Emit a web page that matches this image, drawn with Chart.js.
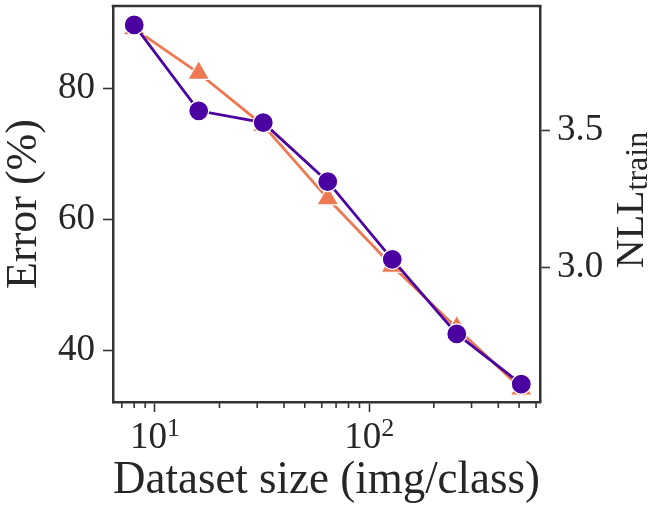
<!DOCTYPE html>
<html>
<head>
<meta charset="utf-8">
<script src="https://cdn.jsdelivr.net/npm/chart.js@4.4.1/dist/chart.umd.min.js"></script>
<style>
  html, body { margin: 0; padding: 0; background: #fff; }
  #wrap { width: 662px; height: 517px; }
</style>
</head>
<body>
<div id="wrap"><canvas id="sizeChart"></canvas></div>
<script>
// values
var datasetSizes = [8, 16, 32, 64, 128, 256, 512];
var errorPct = [89.2, 82.4, 74.4, 63.2, 52.9, 43.4, 34.1];
var nllTrain = [3.884, 3.571, 3.528, 3.313, 3.030, 2.758, 2.575];
var xTickValues = [7, 8, 9, 10, 20, 30, 40, 50, 60, 70, 80, 90, 100, 200, 300, 400, 500, 600];
var xMajorTicks = [10, 100];
var xMajorExps = ['1', '2'];
var errorTicks = [40, 60, 80];
var nllTicks = [3.0, 3.5];

var textColor = '#262626';
var axisColor = '#333333';
var purple = '#4c02a1';
var orange = '#ed7953';

function toPoints(ys) {
    return datasetSizes.map(function (s, i) { return { x: s, y: ys[i] }; });
}

// no extra room for half tick labels, the box is placed by hand
function noPad(scale) {
    scale.paddingTop = 0;
    scale.paddingBottom = 0;
    scale.paddingLeft = 0;
    scale.paddingRight = 0;
}

// frame on top, short minor ticks, 10^n labels, right axis title with subscript
var framePlugin = {
    id: 'framePlugin',
    afterDraw: function (chart) {
        var ctx = chart.ctx;
        var a = chart.chartArea;
        var xs = chart.scales.x;
        ctx.save();
        ctx.strokeStyle = axisColor;
        ctx.lineWidth = 2.5;
        ctx.beginPath();
        ctx.moveTo(a.left - 1.25, a.top);
        ctx.lineTo(a.right + 1.25, a.top);
        ctx.stroke();

        ctx.lineWidth = 1.6;
        xTickValues.forEach(function (v) {
            if (xMajorTicks.indexOf(v) >= 0) return;
            var px = xs.getPixelForValue(v);
            ctx.beginPath();
            ctx.moveTo(px, a.bottom);
            ctx.lineTo(px, a.bottom + 6);
            ctx.stroke();
        });

        ctx.fillStyle = textColor;
        ctx.textBaseline = 'alphabetic';
        ctx.textAlign = 'left';

        // x tick labels as 10 with a raised exponent
        var baseFont = '37px "Liberation Serif"';
        var expFont = '26px "Liberation Serif"';
        xMajorTicks.forEach(function (v, i) {
            ctx.font = baseFont;
            var wb = ctx.measureText('10').width;
            ctx.font = expFont;
            var we = ctx.measureText(xMajorExps[i]).width;
            var x0 = xs.getPixelForValue(v) - (wb + we) / 2;
            ctx.font = baseFont;
            ctx.fillText('10', x0, a.bottom + 46);
            ctx.font = expFont;
            ctx.fillText(xMajorExps[i], x0 + wb, a.bottom + 34);
        });

        // NLL_train
        var big = '40px "Liberation Serif"';
        var small = '32px "Liberation Serif"';
        ctx.font = big;
        var w1 = ctx.measureText('NLL').width;
        ctx.font = small;
        var w2 = ctx.measureText('train').width;
        ctx.translate(a.right + 103, (a.top + a.bottom) / 2 - 4);
        ctx.rotate(-Math.PI / 2);
        var start = -(w1 + w2) / 2;
        ctx.font = big;
        ctx.fillText('NLL', start, 0);
        ctx.font = small;
        ctx.fillText('train', start + w1, 4);
        ctx.restore();
    }
};

var ctx = document.getElementById('sizeChart').getContext('2d');
var sizeChart = new Chart(ctx, {
    type: 'line',
    data: {
        datasets: [{
            label: 'NLL train',
            data: toPoints(nllTrain),
            yAxisID: 'yR',
            borderColor: purple,
            backgroundColor: purple,
            borderWidth: 2.8,
            pointStyle: 'circle',
            pointRadius: 10,
            pointHoverRadius: 10,
            pointBackgroundColor: purple,
            pointBorderColor: '#ffffff',
            pointBorderWidth: 1.2,
            tension: 0,
            clip: false
        }, {
            label: 'Error',
            data: toPoints(errorPct),
            yAxisID: 'yL',
            borderColor: orange,
            backgroundColor: orange,
            borderWidth: 2.8,
            pointStyle: 'triangle',
            pointRadius: 12.7,
            pointHoverRadius: 12.7,
            pointBackgroundColor: orange,
            pointBorderColor: '#ffffff',
            pointBorderWidth: 1.2,
            tension: 0,
            clip: false
        }]
    },
    options: {
        responsive: true,
        maintainAspectRatio: false,
        animation: false,
        layout: { autoPadding: false, padding: { top: 6, left: 0, right: 0, bottom: 0 } },
        plugins: {
            legend: { display: false },
            tooltip: { enabled: false }
        },
        scales: {
            x: {
                type: 'logarithmic',
                position: 'bottom',
                min: 6.37,
                max: 626,
                afterBuildTicks: function (scale) {
                    scale.ticks = xTickValues.map(function (v) {
                        return { value: v, major: xMajorTicks.indexOf(v) >= 0 };
                    });
                },
                afterFit: function (scale) { scale.height = 115; noPad(scale); },
                border: { display: true, color: axisColor, width: 2.5 },
                grid: {
                    drawOnChartArea: false,
                    drawTicks: true,
                    tickLength: 10,
                    tickWidth: 1.6,
                    tickColor: function (c) {
                        return (c.tick && xMajorTicks.indexOf(c.tick.value) >= 0) ? axisColor : 'rgba(0,0,0,0)';
                    }
                },
                ticks: {
                    autoSkip: false,
                    maxRotation: 0,
                    padding: 5,
                    color: textColor,
                    font: { family: 'Liberation Serif', size: 37 },
                    callback: function () { return ''; }
                },
                title: {
                    display: true,
                    text: 'Dataset size (img/class)',
                    color: textColor,
                    font: { family: 'Liberation Serif', size: 46, lineHeight: 1.1 },
                    padding: { top: 0, bottom: 11 }
                }
            },
            yL: {
                type: 'linear',
                position: 'left',
                min: 32.08,
                max: 92.66,
                afterBuildTicks: function (scale) {
                    scale.ticks = errorTicks.map(function (v) { return { value: v }; });
                },
                afterFit: function (scale) { scale.width = 113; noPad(scale); },
                border: { display: true, color: axisColor, width: 2.5 },
                grid: {
                    drawOnChartArea: false,
                    tickLength: 10,
                    tickWidth: 1.6,
                    tickColor: axisColor
                },
                ticks: {
                    padding: 8,
                    color: textColor,
                    font: { family: 'Liberation Serif', size: 37 }
                },
                title: {
                    display: true,
                    text: 'Error (%)',
                    color: textColor,
                    font: { family: 'Liberation Serif', size: 44, lineHeight: 1.1 },
                    padding: { top: 0, bottom: 0 }
                }
            },
            yR: {
                type: 'linear',
                position: 'right',
                min: 2.51,
                max: 3.953,
                afterBuildTicks: function (scale) {
                    scale.ticks = nllTicks.map(function (v) { return { value: v }; });
                },
                afterFit: function (scale) { scale.width = 122; noPad(scale); },
                border: { display: true, color: axisColor, width: 2.5 },
                grid: {
                    drawOnChartArea: false,
                    tickLength: 10,
                    tickWidth: 1.6,
                    tickColor: axisColor
                },
                ticks: {
                    padding: 7,
                    color: textColor,
                    font: { family: 'Liberation Serif', size: 37 },
                    callback: function (v) { return v.toFixed(1); }
                }
            }
        }
    },
    plugins: [framePlugin]
});
</script>
</body>
</html>
